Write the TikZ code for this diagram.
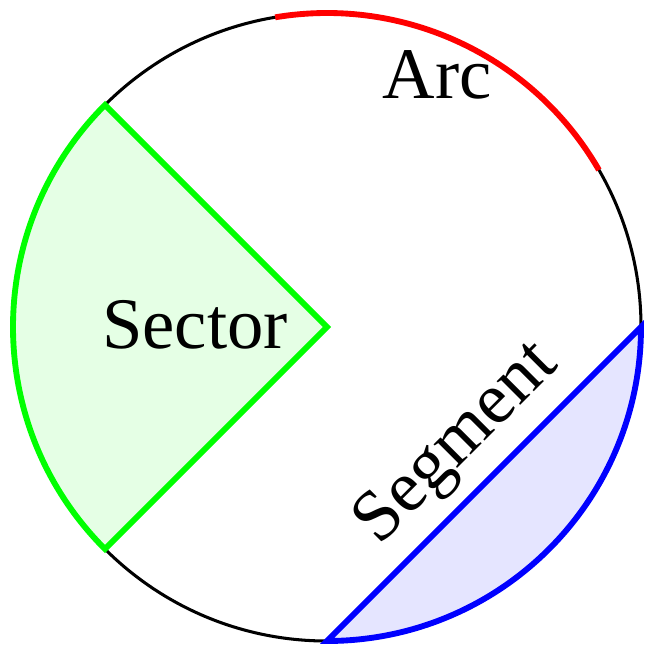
\documentclass[tikz,border=0pt]{standalone}
\usepackage{fontspec}
\setmainfont{Liberation Serif}
\begin{document}
\begin{tikzpicture}[x=0.03cm,y=-0.03cm,
  lbl/.style={font=\fontsize{62}{62}\selectfont, inner sep=0pt}]
\useasboundingbox (0,0) rectangle (655,655);
\coordinate (c) at (327,327);
\def\R{314}
\fill[blue!10] (327+\R,327) arc[start angle=0,end angle=90,radius=\R] -- cycle;
\fill[green!10] (c) -- ++(135:\R) arc[start angle=135,end angle=225,radius=\R] -- cycle;
\draw[line width=2.6pt] (c) circle[radius=\R];
\draw[red,line width=5pt] (c) ++(-99.5:\R) arc[start angle=-99.5,end angle=-30,radius=\R];
\draw[green,line width=5pt,line join=miter] (c) -- ++(135:\R) arc[start angle=135,end angle=225,radius=\R] -- cycle;
\draw[blue,line width=5pt,line join=miter] (327+\R,327) arc[start angle=0,end angle=90,radius=\R] -- cycle;
\node[lbl] (arc) at (437,75) {Arc};
\node[lbl] (sec) at (195,325) {Sector};
\node[lbl,rotate=45] (seg) at (458,445) {Segment};
\end{tikzpicture}
\end{document}
